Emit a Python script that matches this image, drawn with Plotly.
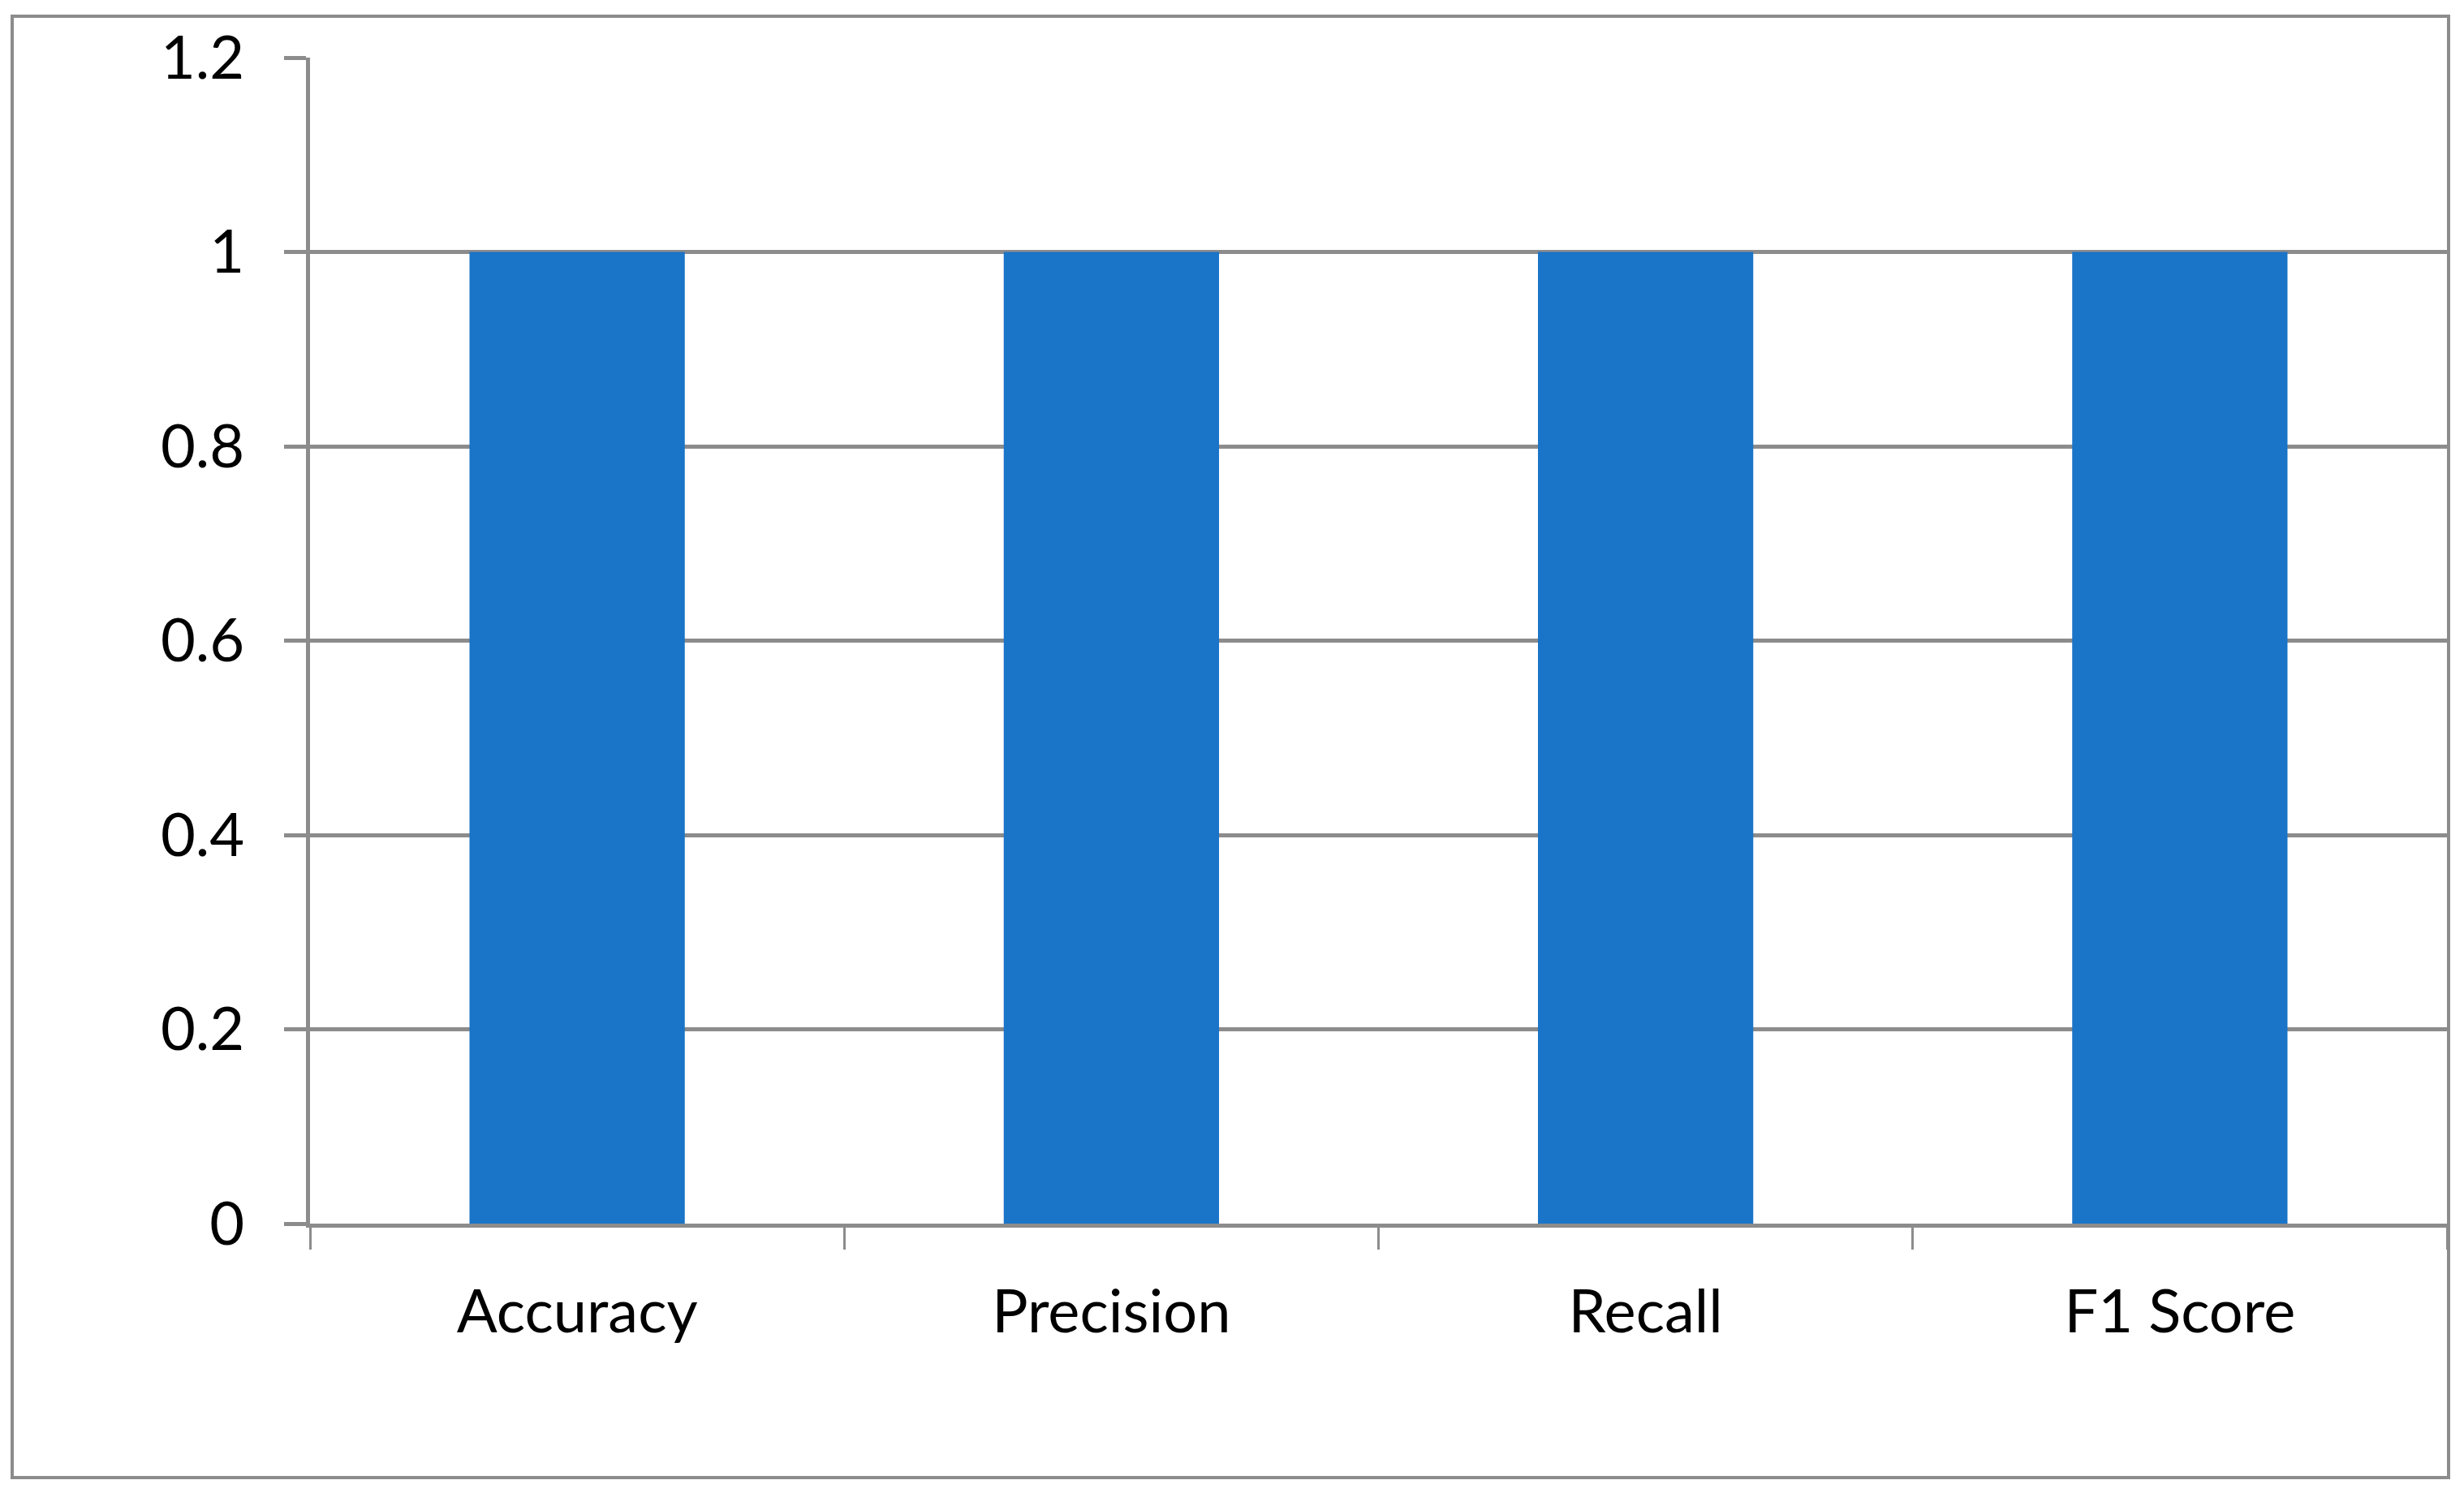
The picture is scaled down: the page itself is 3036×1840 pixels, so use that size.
import plotly.graph_objects as go

categories = ["Accuracy", "Precision", "Recall", "F1 Score"]
values = [1.0, 1.0, 1.0, 1.0]
y_ticks = [0, 0.2, 0.4, 0.6, 0.8, 1.0, 1.2]
y_tick_labels = ["0", "0.2", "0.4", "0.6", "0.8", "1", "1.2"]

W, H = 3036, 1840
OFF = 8  # page body offset
L, T = 382 - OFF, 71 - OFF
R = W - (3015 - OFF)
B = H - (1508 - OFF)
GREY = "#8c8c8c"
BAR = "#1a74c8"
FONT = "Lato"

fig = go.Figure(go.Bar(x=categories, y=values, marker=dict(color=BAR, line=dict(width=0)), width=0.403))

plot_w = W - L - R
plot_h = H - T - B
# outer chart border (pixel positions converted to paper coords)
bx0, by0, bx1, by1 = 15 - OFF, 20 - OFF, 3017 - OFF, 1821 - OFF
fig.add_shape(type="rect", xref="paper", yref="paper",
              x0=(bx0 - L) / plot_w, x1=(bx1 - L) / plot_w,
              y0=(H - B - by1) / plot_h, y1=(H - B - by0) / plot_h,
              line=dict(color=GREY, width=4), fillcolor="rgba(0,0,0,0)", layer="below")

fig.update_layout(
    width=W, height=H,
    margin=dict(l=L, r=R, t=T, b=B, pad=0),
    paper_bgcolor="white", plot_bgcolor="white",
    showlegend=False,
    font=dict(family=FONT, size=74, color="black"),
    xaxis=dict(
        showline=True, linecolor=GREY, linewidth=5,
        ticks="outside", ticklen=27, tickwidth=3, tickcolor=GREY,
        tickson="boundaries", showgrid=False,
        tickfont=dict(family=FONT, size=74, color="black"),
        ticklabelstandoff=40,
    ),
    yaxis=dict(
        range=[0, 1.2], tickvals=y_ticks, ticktext=y_tick_labels,
        showline=True, linecolor=GREY, linewidth=5,
        showgrid=True, gridcolor=GREY, gridwidth=5,
        ticks="outside", ticklen=27, tickwidth=5, tickcolor=GREY,
        zeroline=False,
        tickfont=dict(family=FONT, size=74, color="black"),
        ticklabelstandoff=34,
    ),
)

fig.write_html("out.html")
